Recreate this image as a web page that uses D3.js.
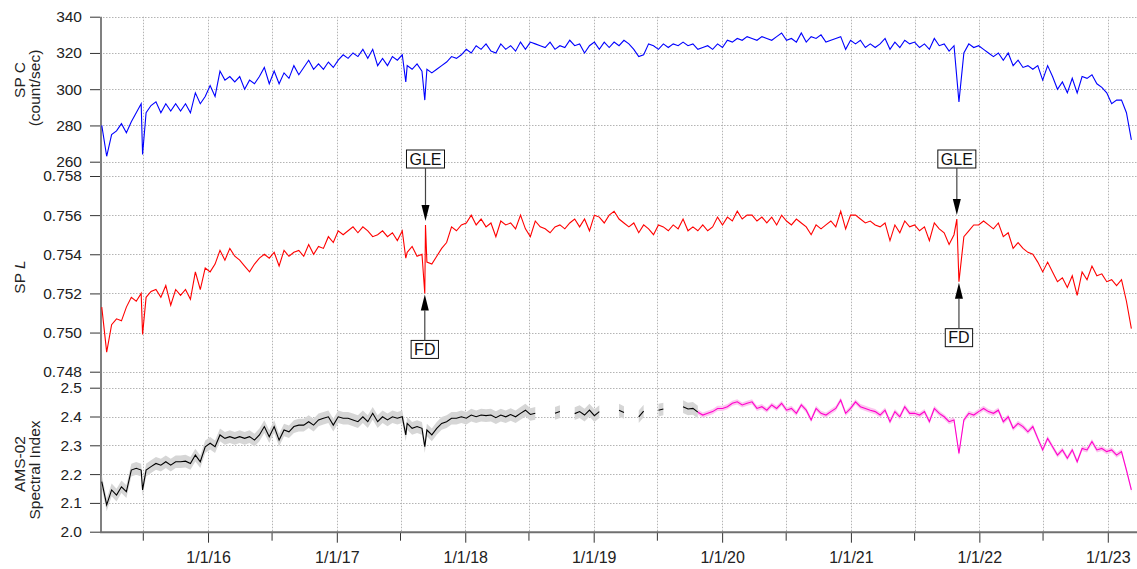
<!DOCTYPE html>
<html>
<head>
<meta charset="utf-8">
<script src="https://cdn.jsdelivr.net/npm/d3@7"></script>
<style>
body { margin: 0; background: #fff; }
svg { display: block; font-family: "Liberation Sans", Arial, sans-serif; }
</style>
</head>
<body>
<svg id="chart" width="1137" height="569"></svg>
<script>
// DATA - one value every 14 days starting 2015-03-05
const startDate = "2015-03-05";
const stepDays = 14;

const spC = [
  280,263,275,277,281,276,282,287,292,287, 291,293,287,292,288,292,288,292,287,298,
  292,296,302,296,310,305,307,304,307,300, 305,303,307,312,303,310,303,309,306,313,
  308,312,316,311,314,311,315,312,316,319, 317,320,318,322,317,322,313,317,313,318,
  316,319,313,311,314,310,311,309,311,313, 315,318,317,319,322,320,324,322,325,321,
  320,325,322,324,321,326,322,326,325,324, 323,326,322,324,323,327,324,325,320,324,
  326,322,326,323,326,324,327,325,322,318, 319,325,324,322,325,323,325,324,326,324,
  325,322,323,324,322,325,323,327,326,328, 327,329,328,327,329,328,327,329,331,327,
  328,326,331,326,329,328,330,326,327,328, 329,322,327,325,327,323,325,323,325,328,
  322,326,323,327,325,326,323,325,322,328, 324,325,321,324,293,320,325,323,324,322,
  320,318,320,316,320,313,316,312,313,311, 313,305,313,307,300,304,298,306,298,307,
  306,308,303,301,298,292,294,294,287,272
];

const spL = [
  0.7513,0.7490,0.7504,0.7507,0.7506,0.7513,0.7518,0.7516,0.7520,0.7518,
  0.7521,0.7522,0.7518,0.7524,0.7514,0.7522,0.7519,0.7522,0.7517,0.7531,
  0.7522,0.7533,0.7531,0.7535,0.7542,0.7537,0.7543,0.7539,0.7537,0.7534,
  0.7531,0.7535,0.7538,0.7540,0.7538,0.7541,0.7534,0.7542,0.7539,0.7541,
  0.7542,0.7539,0.7545,0.7540,0.7544,0.7543,0.7549,0.7546,0.7552,0.7550,
  0.7552,0.7554,0.7551,0.7554,0.7552,0.7549,0.7550,0.7552,0.7549,0.7551,
  0.7547,0.7552,0.7541,0.7544,0.7539,0.7540,0.7536,0.7535,0.7539,0.7543,
  0.7546,0.7554,0.7552,0.7555,0.7556,0.7560,0.7555,0.7558,0.7554,0.7556,
  0.7549,0.7557,0.7555,0.7556,0.7553,0.7560,0.7553,0.7549,0.7557,0.7554,
  0.7553,0.7551,0.7554,0.7555,0.7553,0.7556,0.7558,0.7554,0.7558,0.7552,
  0.7560,0.7559,0.7556,0.7560,0.7562,0.7558,0.7556,0.7554,0.7556,0.7551,
  0.7555,0.7553,0.7550,0.7555,0.7554,0.7552,0.7555,0.7553,0.7558,0.7552,
  0.7554,0.7552,0.7555,0.7552,0.7554,0.7559,0.7555,0.7559,0.7557,0.7562,
  0.7558,0.7560,0.7560,0.7557,0.7559,0.7556,0.7559,0.7555,0.7560,0.7557,
  0.7555,0.7558,0.7556,0.7554,0.7550,0.7555,0.7553,0.7555,0.7557,0.7554,
  0.7562,0.7553,0.7560,0.7560,0.7558,0.7556,0.7557,0.7555,0.7554,0.7556,
  0.7547,0.7555,0.7551,0.7557,0.7554,0.7555,0.7552,0.7554,0.7547,0.7556,
  0.7553,0.7551,0.7545,0.7550,0.7526,0.7549,0.7552,0.7555,0.7555,0.7557,
  0.7555,0.7553,0.7556,0.7549,0.7551,0.7543,0.7546,0.7543,0.7541,0.7540,
  0.7536,0.7531,0.7536,0.7531,0.7526,0.7528,0.7523,0.7529,0.7519,0.7531,
  0.7527,0.7534,0.7529,0.7530,0.7526,0.7527,0.7524,0.7527,0.7516,0.7502
];

// null = no AMS-02 data that fortnight
const ams = [
  2.174,2.093,2.145,2.127,2.156,2.139,2.214,2.220,2.214,2.214,
  2.226,2.237,2.231,2.243,2.231,2.243,2.243,2.245,2.237,2.266,
  2.243,2.295,2.307,2.295,2.336,2.324,2.330,2.324,2.330,2.324,
  2.330,2.318,2.336,2.365,2.330,2.365,2.318,2.353,2.347,2.365,
  2.370,2.370,2.382,2.370,2.388,2.394,2.399,2.370,2.399,2.394,
  2.394,2.388,2.382,2.399,2.382,2.411,2.382,2.399,2.388,2.399,
  2.394,2.399,2.376,2.359,2.365,2.359,2.353,2.336,2.359,2.376,
  2.382,2.394,2.394,2.399,2.394,2.405,2.399,2.405,2.403,2.405,
  2.396,2.405,2.399,2.407,2.399,2.411,2.422,2.407,2.411,null,
  null,null,2.411,2.417,null,null,2.410,2.417,2.405,2.422,
  2.403,2.417,null,null,null,2.422,2.414,null,null,2.399,
  2.419,null,null,2.422,2.426,null,null,null,2.434,2.426,
  2.428,2.415,2.405,2.411,2.417,2.428,2.428,2.434,2.446,2.451,
  2.440,2.446,2.451,2.428,2.434,2.422,2.440,2.428,2.446,2.422,
  2.428,2.411,2.440,2.422,2.388,2.428,2.411,2.405,2.417,2.428,
  2.457,2.411,2.428,2.451,2.434,2.428,2.422,2.417,2.405,2.422,
  2.382,2.417,2.399,2.434,2.411,2.411,2.405,2.417,2.382,2.428,
  2.411,2.399,2.382,2.388,2.272,2.388,2.411,2.405,2.417,2.428,
  2.417,2.411,2.422,2.382,2.399,2.359,2.376,2.365,2.347,2.365,
  2.324,2.284,2.324,2.295,2.266,2.284,2.255,2.284,2.243,2.289,
  2.284,2.313,2.284,2.289,2.278,2.284,2.266,2.278,2.214,2.145
];
const amsErrOld = 0.022;
const amsErrNew = 0.009;
const amsSwitch = "2019-10-24";   // black -> magenta

// short-lived dips / spikes between the fortnightly points
const spCEvents = [["2015-06-29", 264], ["2017-07-16", 304], ["2017-09-08", 294]];
const spLEvents = [["2015-06-29", 0.7499], ["2017-07-16", 0.7538], ["2017-09-08", 0.7520],
                   ["2017-09-10", 0.7555], ["2021-10-29", 0.7558]];
const amsEvents = [["2015-06-29", 2.145], ["2017-07-16", 2.336], ["2017-09-08", 2.295]];

const annotations = [
  {label: "GLE", date: "2017-09-10", value: 0.7555, side: "top"},
  {label: "FD",  date: "2017-09-08", value: 0.7520, side: "bottom"},
  {label: "GLE", date: "2021-10-29", value: 0.7558, side: "top"},
  {label: "FD",  date: "2021-11-04", value: 0.7526, side: "bottom"}
];

const spCTicks = [260, 280, 300, 320, 340];
const spLTicks = [0.748, 0.750, 0.752, 0.754, 0.756, 0.758];
const amsTicks = [2.0, 2.1, 2.2, 2.3, 2.4, 2.5];

// LAYOUT
const W = 1137, H = 569;
const left = 100, right = 1137;

const parseDate = d3.timeParse("%Y-%m-%d");
const start = parseDate(startDate);
const gridDates = spC.map((_, i) => d3.timeDay.offset(start, i * stepDays));

function buildSeries(values, events) {
  const pts = values.map((v, i) => ({date: gridDates[i], value: v}));
  events.forEach(e => pts.push({date: parseDate(e[0]), value: e[1]}));
  return pts.sort((a, b) => a.date - b.date);
}

const x = d3.scaleTime()
  .domain([parseDate("2015-02-28"), parseDate("2023-03-25")])
  .range([left, right]);

const yC = d3.scaleLinear().domain([260, 340]).range([161.7, 16.7]);
const yL = d3.scaleLinear().domain([0.748, 0.758]).range([371.7, 176]);
const yA = d3.scaleLinear().domain([2.0, 2.5]).range([531.7, 387.7]);

const svg = d3.select("#chart");

// GRID
const halfYears = d3.timeMonth.every(6).range(parseDate("2015-07-01"), parseDate("2023-02-01"));
const years = halfYears.filter(d => d.getMonth() === 0);
const julys = halfYears.filter(d => d.getMonth() === 6);

const grid = svg.append("g")
  .attr("stroke", "#b4b4b4")
  .attr("stroke-width", 1)
  .attr("stroke-dasharray", "1.5,1.5");

grid.selectAll("line.v")
  .data(halfYears)
  .enter().append("line")
  .attr("x1", d => Math.round(x(d)) + 0.5)
  .attr("x2", d => Math.round(x(d)) + 0.5)
  .attr("y1", yC(340))
  .attr("y2", yA(2.0));

const hLines = [
  ...spCTicks.map(v => yC(v)),
  ...spLTicks.map(v => yL(v)),
  ...amsTicks.map(v => yA(v))
];
grid.selectAll("line.h")
  .data(hLines)
  .enter().append("line")
  .attr("x1", left)
  .attr("x2", right)
  .attr("y1", d => Math.round(d) + 0.5)
  .attr("y2", d => Math.round(d) + 0.5);

// AXES
function leftAxis(scale, ticks, fmt) {
  const g = svg.append("g")
    .attr("transform", `translate(${left},0)`)
    .call(d3.axisLeft(scale).tickValues(ticks).tickFormat(fmt).tickSize(10).tickPadding(8));
  g.select(".domain").remove();
  g.selectAll(".tick line").attr("stroke", "#333");
  g.selectAll(".tick text").attr("fill", "#222").style("font-size", "15.5px");
  return g;
}
leftAxis(yC, spCTicks, d3.format("d"));
leftAxis(yL, spLTicks, d3.format(".3f"));
leftAxis(yA, amsTicks, d3.format(".1f"));

svg.append("line")
  .attr("x1", left + 1).attr("x2", left + 1)
  .attr("y1", yC(340)).attr("y2", yA(2.0) + 1)
  .attr("stroke", "#808080")
  .attr("stroke-width", 2);

const xAxisG = svg.append("g")
  .attr("transform", `translate(0,${yA(2.0)})`)
  .call(d3.axisBottom(x).tickValues(years).tickFormat(d3.timeFormat("%-m/%-d/%y")).tickSize(11).tickPadding(9));
xAxisG.select(".domain").remove();
xAxisG.selectAll(".tick line").attr("stroke", "#333");
xAxisG.selectAll(".tick text").attr("fill", "#222").style("font-size", "16px");

svg.append("g")
  .attr("transform", `translate(0,${yA(2.0)})`)
  .selectAll("line")
  .data(julys)
  .enter().append("line")
  .attr("x1", d => x(d)).attr("x2", d => x(d))
  .attr("y1", 0).attr("y2", 9)
  .attr("stroke", "#333");

svg.append("line")
  .attr("x1", left).attr("x2", right)
  .attr("y1", yA(2.0) + 0.5).attr("y2", yA(2.0) + 0.5)
  .attr("stroke", "#707070")
  .attr("stroke-width", 2);

// SERIES
const spCData = buildSeries(spC, spCEvents);
const spLData = buildSeries(spL, spLEvents);
const amsData = buildSeries(ams, amsEvents);

svg.append("path")
  .datum(spCData)
  .attr("fill", "none")
  .attr("stroke", "#0000ff")
  .attr("stroke-width", 1.1)
  .attr("d", d3.line().x(d => x(d.date)).y(d => yC(d.value)));

svg.append("path")
  .datum(spLData)
  .attr("fill", "none")
  .attr("stroke", "#ff0000")
  .attr("stroke-width", 1.1)
  .attr("d", d3.line().x(d => x(d.date)).y(d => yL(d.value)));

const switchDate = parseDate(amsSwitch);
const amsOld = amsData.filter(d => d.date <= switchDate);
const amsNew = amsData.filter(d => d.date >= switchDate);

function band(err) {
  return d3.area()
    .defined(d => d.value != null)
    .x(d => x(d.date))
    .y0(d => yA(d.value - err))
    .y1(d => yA(d.value + err));
}
const amsLine = d3.line()
  .defined(d => d.value != null)
  .x(d => x(d.date))
  .y(d => yA(d.value));

svg.append("path").datum(amsOld).attr("fill", "#d6d6d6").attr("d", band(amsErrOld));
svg.append("path").datum(amsNew).attr("fill", "#fcc6ef").attr("d", band(amsErrNew));

svg.append("path").datum(amsOld)
  .attr("fill", "none").attr("stroke", "#000").attr("stroke-width", 1.1)
  .attr("d", amsLine);
svg.append("path").datum(amsNew)
  .attr("fill", "none").attr("stroke", "#ff00cc").attr("stroke-width", 1.1)
  .attr("d", amsLine);

// AXIS TITLES
function title(txt, tx, ty, size) {
  return svg.append("text")
    .attr("transform", `translate(${tx},${ty}) rotate(-90)`)
    .attr("text-anchor", "middle")
    .attr("fill", "#222")
    .style("font-size", size)
    .text(txt);
}
title("SP C", 25, 80, "15.5px");
title("(count/sec)", 40, 88, "15.5px");
const spLTitle = title("SP ", 25, 277, "15.5px");
spLTitle.append("tspan").style("font-style", "italic").text("L");
title("AMS-02", 25, 464, "15.5px");
title("Spectral Index", 40, 470, "15.5px");

// ANNOTATIONS
const ann = svg.append("g");
annotations.forEach(a => {
  const ax = x(parseDate(a.date));
  const tip = a.side === "top" ? yL(a.value) - 4 : yL(a.value) + 1;
  const boxH = 18;
  const boxY = a.side === "top" ? yL(0.758) - 8 - boxH : tip + 46;
  const t = ann.append("text")
    .attr("x", ax)
    .attr("y", boxY + boxH / 2 + 5.5)
    .attr("text-anchor", "middle")
    .attr("fill", "#111")
    .style("font-size", "16px")
    .text(a.label);
  const bw = t.node().getComputedTextLength() + 6;
  ann.insert("rect", "text")
    .attr("x", ax - bw / 2)
    .attr("y", boxY)
    .attr("width", bw)
    .attr("height", boxH)
    .attr("fill", "#fff")
    .attr("stroke", "#111")
    .attr("stroke-width", 1);
  const headLen = 16, headW = 4;
  const from = a.side === "top" ? boxY + boxH : boxY;
  const dir = a.side === "top" ? 1 : -1;
  ann.append("line")
    .attr("x1", ax).attr("x2", ax)
    .attr("y1", from).attr("y2", tip - dir * headLen)
    .attr("stroke", "#444")
    .attr("stroke-width", 1.2);
  ann.append("path")
    .attr("d", `M${ax},${tip} L${ax - headW},${tip - dir * headLen} L${ax + headW},${tip - dir * headLen} Z`)
    .attr("fill", "#000");
});
</script>
</body>
</html>
